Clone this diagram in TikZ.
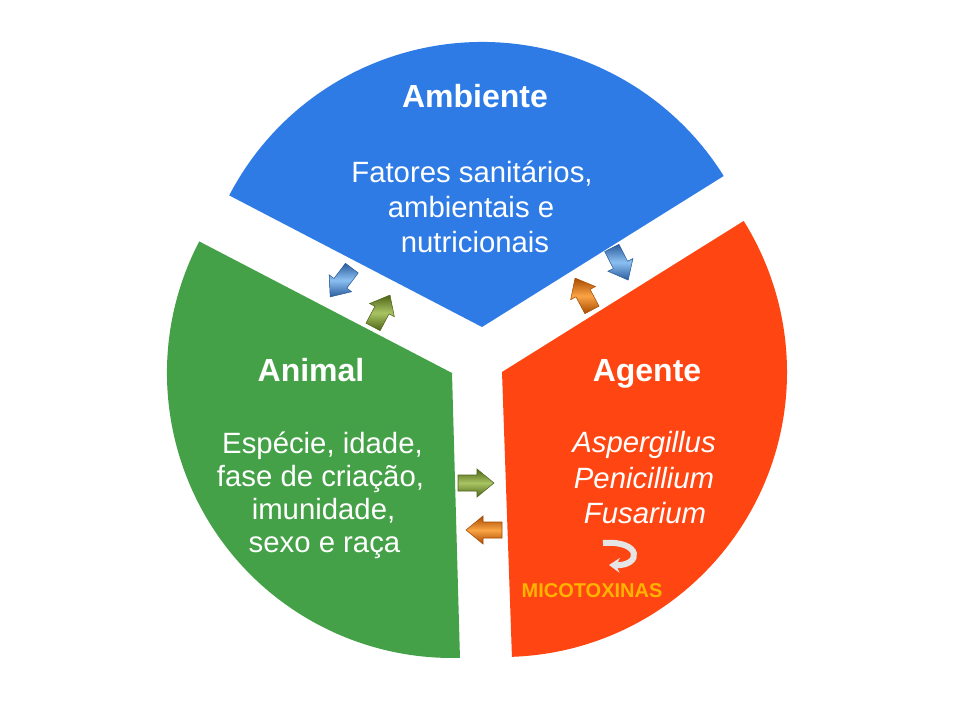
\documentclass[tikz,border=0pt]{standalone}
\usepackage{fontspec}
\setmainfont{Liberation Sans}
\usetikzlibrary{arrows.meta}
\definecolor{ambblue}{HTML}{2E7BE6}
\definecolor{animgreen}{HTML}{45A148}
\definecolor{agred}{HTML}{FF4612}
\definecolor{micogold}{HTML}{FFB400}
\definecolor{bluedark}{HTML}{2A5C9C}
\definecolor{bluelight}{HTML}{8CC0F2}
\definecolor{greendark}{HTML}{4F6418}
\definecolor{greenlight}{HTML}{A8C462}
\definecolor{orangedark}{HTML}{A84A00}
\definecolor{orangelight}{HTML}{FBA445}
\newcommand{\blkarrow}[4]{%
  \begin{scope}[shift={(#1,#2)},rotate=#3]
    \shade[top color=#4dark, bottom color=#4dark, middle color=#4light]
      (-18,-8) -- (1,-8) -- (1,-14) -- (18,0) -- (1,14) -- (1,8) -- (-18,8) -- cycle;
    \draw[#4dark, line width=0.4pt]
      (-18,-8) -- (1,-8) -- (1,-14) -- (18,0) -- (1,14) -- (1,8) -- (-18,8) -- cycle;
  \end{scope}}
\tikzset{
  title/.style={font=\fontsize{24}{28}\selectfont\bfseries, text=white, anchor=base, inner sep=0pt},
  bodyb/.style={font=\fontsize{22}{26}\selectfont, text=white, anchor=base, inner sep=0pt},
  bodyg/.style={font=\fontsize{22}{26}\selectfont, text=white, anchor=base, inner sep=0pt},
  bodyr/.style={font=\fontsize{22}{26}\selectfont\itshape, text=white, anchor=base, inner sep=0pt},
}
\begin{document}
\begin{tikzpicture}[x=0.75pt,y=0.75pt]
\def\R{213.75pt}
\useasboundingbox (0,0) rectangle (960,-720);
\fill[white] (0,0) rectangle (960,-720);
% sectors
\fill[ambblue] (482,-327) -- ++(152.5:\R) arc[start angle=152.5,end angle=32,radius=\R] -- cycle;
\fill[animgreen] (452,-373) -- ++(152.5:\R) arc[start angle=152.5,end angle=271.6,radius=\R] -- cycle;
\fill[agred] (502,-372) -- ++(-88:\R) arc[start angle=-88,end angle=32,radius=\R] -- cycle;
% texts
\node[title] (amb) at (475,-108) {Ambiente};
\node[bodyb] (amb1) at (472,-183) {Fatores sanitários,};
\node[bodyb] (amb2) at (471,-218) {ambientais e};
\node[bodyb] (amb3) at (475,-253) {nutricionais};
\node[title] (ani) at (311,-381) {Animal};
\node[bodyg] (ani1) at (322.5,-453) {Espécie, idade,};
\node[bodyg] (ani2) at (320.5,-486) {fase de criação,};
\node[bodyg] (ani3) at (323.5,-519) {imunidade,};
\node[bodyg] (ani4) at (324.5,-552) {sexo e raça};
\node[title] (age) at (647,-381) {Agente};
\node[bodyr] (age1) at (644,-452) {Aspergillus};
\node[bodyr] (age2) at (644,-488) {Penicillium};
\node[bodyr] (age3) at (645,-523) {Fusarium};
\node[font=\fontsize{15}{18}\selectfont\bfseries, text=micogold, anchor=base, inner sep=0pt] (mico) at (592,-597) {MICOTOXINAS};
% circular arrow
\draw[line width=4.5pt, gray!20, -{Stealth[length=8pt,width=11pt]}]
  (603,-543) .. controls (642,-540) and (642,-566) .. (609,-565);
% block arrows
\blkarrow{341}{-282.5}{233}{blue}
\blkarrow{381.5}{-311}{62}{green}
\blkarrow{620}{-264}{-63}{blue}
\blkarrow{583.5}{-294}{118}{orange}
\blkarrow{476}{-483}{0}{green}
\blkarrow{484}{-530}{180}{orange}
\end{tikzpicture}
\end{document}
